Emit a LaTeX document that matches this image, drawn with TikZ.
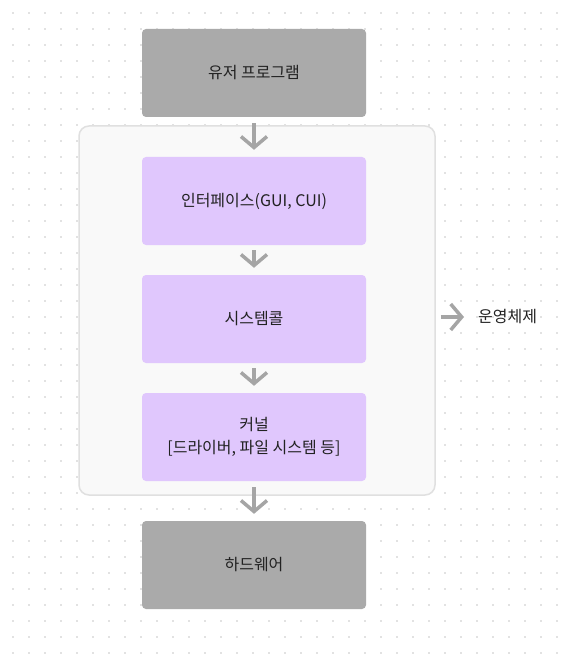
\documentclass[tikz,border=0pt]{standalone}
\usepackage{fontspec}
\setmainfont{Noto Sans CJK KR}
\usetikzlibrary{arrows.meta}
\definecolor{dotc}{HTML}{E2E2E2}
\definecolor{grayfill}{HTML}{AAAAAA}
\definecolor{purp}{HTML}{E0C7FD}
\definecolor{osfill}{HTML}{F9F9F9}
\definecolor{osline}{HTML}{E0E0E0}
\definecolor{arr}{HTML}{A5A5A5}
\definecolor{txt}{HTML}{222222}
\tikzset{
  box/.style={rectangle, rounded corners=4pt, minimum width=224pt, minimum height=88pt, inner sep=0pt, text=txt, font=\fontsize{16pt}{23pt}\selectfont, align=center},
  graybox/.style={box, fill=grayfill},
  purpbox/.style={box, fill=purp},
  flow/.style={draw=arr, line width=3.5pt, -{Straight Barb[length=11pt,width=26pt,line width=3.5pt]}, shorten <=6pt, shorten >=7pt}
}
\begin{document}
\begin{tikzpicture}[x=1pt,y=-1pt]
\useasboundingbox (0,0) rectangle (567,668);
\fill[white] (0,0) rectangle (567,668);
\foreach \i in {0,...,34} {
  \foreach \j in {0,...,41} {
    \fill[dotc] ({13+16*\i-1},{13+16*\j-1}) rectangle ++(2,2);
  }
}
\node[draw=osline, fill=osfill, line width=1.5pt, rounded corners=10pt, minimum width=356pt, minimum height=369pt, inner sep=0pt] (os) at (257,310.5) {};
\node[graybox] (user) at (254,73) {유저 프로그램};
\node[purpbox] (iface) at (254,201) {인터페이스(GUI, CUI)};
\node[purpbox] (sys) at (254,319) {시스템콜};
\node[purpbox] (kern) at (254,437) {커널\\{}[드라이버, 파일 시스템 등]};
\node[graybox] (hw) at (254,565) {하드웨어};
\node[text=txt, font=\fontsize{16pt}{20pt}\selectfont, anchor=west, inner sep=0pt] (oslabel) at (478,317) {운영체제};
\draw[flow] (user.south) -- (iface.north);
\draw[flow, shorten <=5pt, shorten >=7pt] (iface.south) -- (sys.north);
\draw[flow, shorten <=5pt, shorten >=7pt] (sys.south) -- (kern.north);
\draw[flow] (kern.south) -- (hw.north);
\draw[flow, shorten <=5pt, shorten >=14pt] (os.east |- oslabel.west) -- (oslabel.west);
\end{tikzpicture}
\end{document}
